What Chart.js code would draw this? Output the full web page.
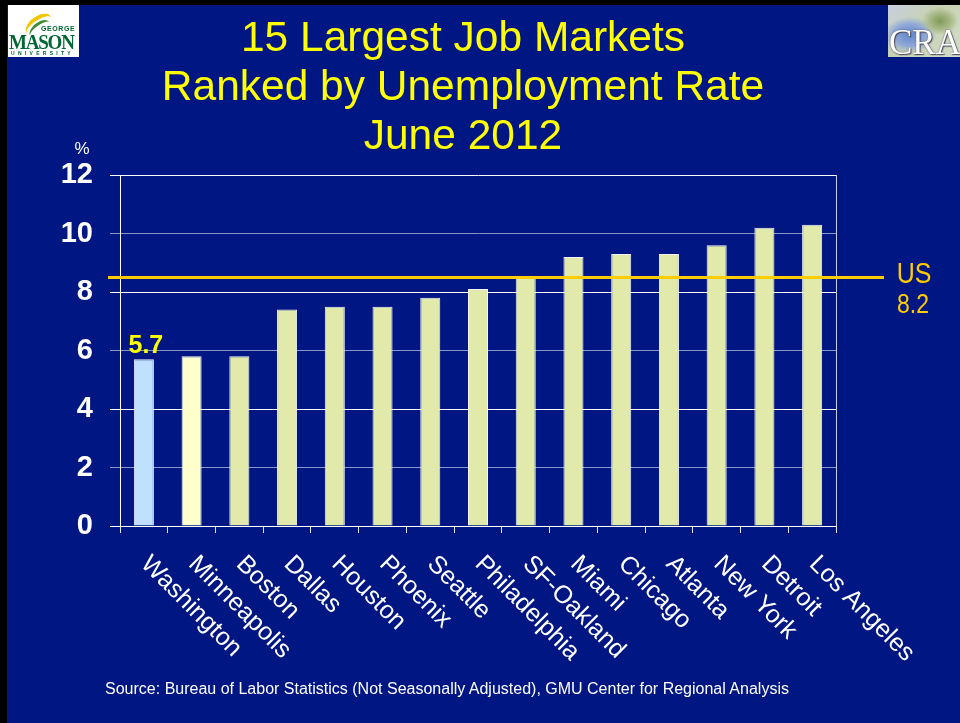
<!DOCTYPE html>
<html>
<head>
<meta charset="utf-8">
<title>15 Largest Job Markets Ranked by Unemployment Rate</title>
<script src="https://cdn.jsdelivr.net/npm/chart.js@4.4.0/dist/chart.umd.min.js"></script>
<style>
    html, body { margin: 0; padding: 0; background: #000; width: 960px; height: 723px; overflow: hidden; }
    #slide { position: absolute; left: 7px; top: 5px; width: 953px; height: 718px; background: #001682; }
    #grafico { position: absolute; left: 0; top: 0; z-index: 1; }
    #titulo {
        position: absolute; left: 0; top: 12px; width: 926px; z-index: 2;
        text-align: center; color: #FFFF00;
        font: 42.5px/49px "Liberation Sans", Arial, sans-serif;
    }
    #fonte {
        position: absolute; left: 0; top: 680px; width: 894px; z-index: 2;
        text-align: center; color: #fff;
        font: 16px/18px "Liberation Sans", Arial, sans-serif;
    }
    #gmu { position: absolute; left: 8px; top: 5px; width: 71px; height: 52px; background: #fff; z-index: 2; overflow: hidden; }
    #gmu .swoosh { position: absolute; left: 16px; top: 11px; width: 30px; height: 16px;
        border-top: 4px solid #F2C500; border-radius: 60% 40% 0 0; transform: rotate(-28deg); }
    #gmu .swoosh2 { position: absolute; left: 20px; top: 17px; width: 24px; height: 12px;
        border-top: 3px solid #3E8E2F; border-radius: 60% 40% 0 0; transform: rotate(-30deg); }
    #gmu span { position: absolute; color: #006633; font-family: "Liberation Serif", "Times New Roman", serif; font-weight: bold; white-space: nowrap; }
    #gmu .g1 { left: 33px; top: 20px; font: bold 7px "Liberation Sans", Arial, sans-serif; letter-spacing: 0.6px; }
    #gmu .g2 { left: 1px; top: 24px; font-size: 19px; letter-spacing: -1.2px; transform: scaleY(1.15); transform-origin: left top; }
    #gmu .g3 { left: 3px; top: 45px; font: bold 5px "Liberation Sans", Arial, sans-serif; letter-spacing: 3.3px; }
    #cra {
        position: absolute; left: 888px; top: 5px; width: 72px; height: 52px; z-index: 2; overflow: hidden;
        background:
            radial-gradient(ellipse 18px 14px at 52px 16px, #7f9a5a 0%, #a9ba88 60%, rgba(0,0,0,0) 100%),
            radial-gradient(ellipse 26px 18px at 22px 30px, #5f86c9 0%, #8fa8d8 60%, rgba(0,0,0,0) 100%),
            linear-gradient(135deg, #c9cfe0 0%, #c6d2b0 45%, #d5dccd 100%);
    }
    #cra span {
        position: absolute; left: 1px; top: 18px; color: #fff;
        font: 35px "Liberation Serif", "Times New Roman", serif;
        text-shadow: 0 0 2px #556, 1px 1px 1px #445;
    }
</style>
</head>
<body>
<div id="slide"></div>
<canvas id="grafico" width="960" height="723"></canvas>
<div id="titulo">15 Largest Job Markets<br>Ranked by Unemployment Rate<br>June 2012</div>
<div id="fonte">Source: Bureau of Labor Statistics (Not Seasonally Adjusted), GMU Center for Regional Analysis</div>
<div id="gmu"><div class="swoosh"></div><div class="swoosh2"></div><span class="g1">GEORGE</span><span class="g2">MASON</span><span class="g3">UNIVERSITY</span></div>
<div id="cra"><span>CRA</span></div>

<script>
// Dados do gráfico
const cidades = ['Washington', 'Minneapolis', 'Boston', 'Dallas', 'Houston', 'Phoenix', 'Seattle',
    'Philadelphia', 'SF-Oakland', 'Miami', 'Chicago', 'Atlanta', 'New York', 'Detroit', 'Los Angeles'];
const taxas = [5.7, 5.8, 5.8, 7.4, 7.5, 7.5, 7.8, 8.1, 8.5, 9.2, 9.3, 9.3, 9.6, 10.2, 10.3];
const coresBarras = ['#BFE0FF', '#FFFFCC', '#E1EAAA', '#E1EAAA', '#E1EAAA', '#E1EAAA', '#E1EAAA',
    '#E1EAAA', '#E1EAAA', '#E1EAAA', '#E1EAAA', '#E1EAAA', '#E1EAAA', '#E1EAAA', '#E1EAAA'];
const yMin = 0;
const yMax = 12;
const yPasso = 2;
// linha de referência dos EUA (desenhada um pouco acima do rótulo, como no original)
const nivelUS = 8.5;
const rotuloUS = ['US', '8.2'];

const FONTE = '"Liberation Sans", Arial, sans-serif';

// Linha US, rótulos das cidades e destaque de Washington
const extras = {
    id: 'extras',
    afterDatasetsDraw(chart) {
        const { ctx, chartArea, scales: { x, y } } = chart;
        ctx.save();

        // linha US
        const yUs = y.getPixelForValue(nivelUS);
        ctx.strokeStyle = '#FFCC00';
        ctx.lineWidth = 3;
        ctx.beginPath();
        ctx.moveTo(chartArea.left - 12, yUs);
        ctx.lineTo(chartArea.right + 48, yUs);
        ctx.stroke();

        // rótulo US (texto um pouco esticado na vertical)
        ctx.fillStyle = '#FFCC00';
        ctx.textAlign = 'center';
        ctx.textBaseline = 'alphabetic';
        ctx.font = '25px ' + FONTE;
        ctx.save();
        ctx.translate(914, yUs + 6);
        ctx.scale(1, 1.18);
        ctx.fillText(rotuloUS[0], 0, 0);
        ctx.restore();
        ctx.font = '23px ' + FONTE;
        ctx.save();
        ctx.translate(913, yUs + 36);
        ctx.scale(1, 1.18);
        ctx.fillText(rotuloUS[1], 0, 0);
        ctx.restore();

        // valor da primeira barra
        const barra = chart.getDatasetMeta(0).data[0];
        ctx.fillStyle = '#FFFF00';
        ctx.font = 'bold 25px ' + FONTE;
        ctx.fillText(taxas[0].toFixed(1), barra.x + 2, barra.y - 6);

        // símbolo de % acima do eixo
        ctx.fillStyle = '#fff';
        ctx.font = '17px ' + FONTE;
        ctx.fillText('%', chartArea.left - 38, chartArea.top - 21);

        // nomes das cidades, girados 45 graus
        ctx.font = '25px ' + FONTE;
        ctx.textAlign = 'left';
        cidades.forEach((cidade, i) => {
            const px = x.getPixelForTick(i);
            ctx.save();
            ctx.translate(px - 4, chartArea.bottom + 39);
            ctx.rotate(Math.PI / 4);
            ctx.fillText(cidade, 0, 0);
            ctx.restore();
        });

        ctx.restore();
    }
};

new Chart(document.getElementById('grafico').getContext('2d'), {
    type: 'bar',
    data: {
        labels: cidades,
        datasets: [{
            data: taxas,
            backgroundColor: coresBarras,
            borderColor: '#F2F4F8',
            borderWidth: 1,
            categoryPercentage: 1,
            barPercentage: 0.42
        }]
    },
    options: {
        responsive: false,
        animation: false,
        layout: { padding: { left: 0, top: 175, right: 124, bottom: 0 } },
        plugins: {
            legend: { display: false },
            tooltip: { enabled: false }
        },
        scales: {
            x: {
                ticks: { display: false },
                grid: {
                    offset: true,
                    color: ctx => ctx.tick ? 'rgba(0,0,0,0)' : '#C8CCE0',
                    tickColor: '#E0E4F0',
                    tickLength: 7
                },
                border: { color: '#FFFFFF', width: 1 },
                afterFit: scale => { scale.height = 197; }
            },
            y: {
                min: yMin,
                max: yMax,
                ticks: {
                    stepSize: yPasso,
                    color: '#FFFFFF',
                    padding: 17,
                    font: { family: FONTE, size: 29, weight: 'bold' }
                },
                grid: {
                    color: ctx => (ctx.tick && ctx.tick.value % 4 === 0) ? '#FFFFFF' : '#8C96C8',
                    tickLength: 10
                },
                border: { color: '#FFFFFF', width: 1 },
                afterFit: scale => { scale.width = 120; }
            }
        }
    },
    plugins: [extras]
});
</script>
</body>
</html>
